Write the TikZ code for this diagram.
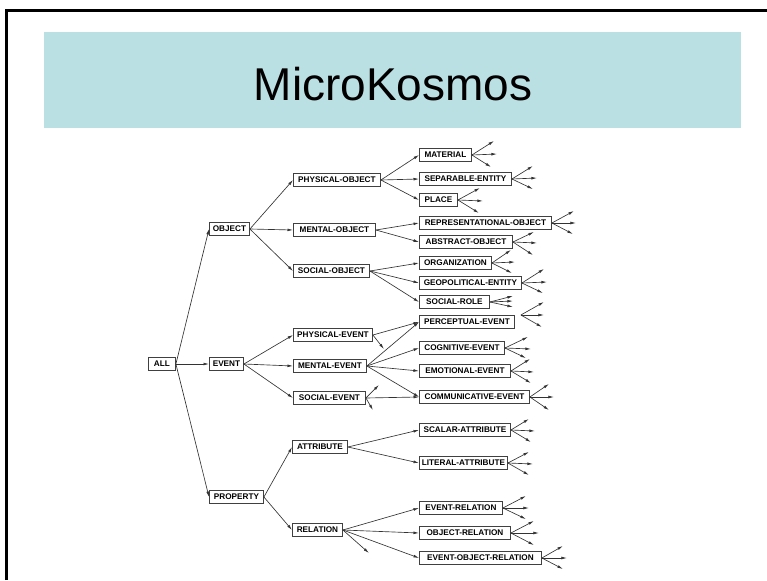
\documentclass[tikz,border=0pt]{standalone}
\usepackage{fontspec}
\setmainfont{Liberation Sans}
\usetikzlibrary{arrows.meta}
\definecolor{banner}{RGB}{187,224,227}

% three short open-ended arrows fanning out from a point
% #1 start point, #2 name prefix, then (dx,dy) for the upper, middle and lower arrow
\newcommand\fanout[8]{%
  \path (#1) ++(#3,#4) coordinate (#2-up)
        (#1) ++(#5,#6) coordinate (#2-mid)
        (#1) ++(#7,#8) coordinate (#2-dn);
  \draw[stub] (#1) -- (#2-up);
  \draw[stub] (#1) -- (#2-mid);
  \draw[stub] (#1) -- (#2-dn);}

\begin{document}
\begin{tikzpicture}[x=1pt,y=-1pt,
  box/.style={draw=black!75, line width=0.9pt, fill=white, anchor=west,
    font=\bfseries\fontsize{8.2}{9}\selectfont, minimum height=13.5pt,
    inner xsep=1pt, inner ysep=0pt, text height=5.9pt, text depth=0pt},
  link/.style={draw=black!80, line width=0.65pt, -{Latex[length=5.5pt,width=2.8pt]}},
  stub/.style={link}]
\useasboundingbox (0,0) rectangle (767,580);

% page frame and title banner
\draw[line width=3pt] (6.5,580) |- (767,10.5);
\fill[banner] (44,32) rectangle (741,128);
\node[font=\fontsize{46}{50}\selectfont] (title) at (393,84) {MicroKosmos};

% level 0 and 1
\node[box, minimum width=27] (all) at (148,364) {ALL};
\node[box, minimum width=40] (object) at (209,229) {OBJECT};
\node[box, minimum width=34] (event) at (209,364) {EVENT};
\node[box, minimum width=54] (property) at (209,497) {PROPERTY};

% level 2
\node[box, minimum width=87] (phobj) at (293,180) {PHYSICAL-OBJECT};
\node[box, minimum width=82] (meobj) at (293,230) {MENTAL-OBJECT};
\node[box, minimum width=76] (soobj) at (293,271) {SOCIAL-OBJECT};
\node[box, minimum width=79] (phev) at (293,335) {PHYSICAL-EVENT};
\node[box, minimum width=73] (meev) at (293,366) {MENTAL-EVENT};
\node[box, minimum width=72] (soev) at (293,398) {SOCIAL-EVENT};
\node[box, minimum width=55] (attr) at (292,447) {ATTRIBUTE};
\node[box, minimum width=50] (rel) at (292,530) {RELATION};

% level 3
\node[box, minimum width=52] (material) at (419,155) {MATERIAL};
\node[box, minimum width=92] (sepent) at (419,179) {SEPARABLE-ENTITY};
\node[box, minimum width=38] (place) at (419,200) {PLACE};
\node[box, minimum width=132] (repobj) at (419,223) {REPRESENTATIONAL-OBJECT};
\node[box, minimum width=93] (absobj) at (419,242) {ABSTRACT-OBJECT};
\node[box, minimum width=72] (org) at (419,263) {ORGANIZATION};
\node[box, minimum width=102] (geoent) at (419,283) {GEOPOLITICAL-ENTITY};
\node[box, minimum width=70] (socrole) at (419,302) {SOCIAL-ROLE};
\node[box, minimum width=95] (percev) at (419,322) {PERCEPTUAL-EVENT};
\node[box, minimum width=85] (cogev) at (419,348) {COGNITIVE-EVENT};
\node[box, minimum width=91] (emoev) at (419,371) {EMOTIONAL-EVENT};
\node[box, minimum width=110] (commev) at (419,397) {COMMUNICATIVE-EVENT};
\node[box, minimum width=91] (scalattr) at (419,430) {SCALAR-ATTRIBUTE};
\node[box, minimum width=88] (litattr) at (419,463) {LITERAL-ATTRIBUTE};
\node[box, minimum width=83] (evrel) at (419,508) {EVENT-RELATION};
\node[box, minimum width=91] (objrel) at (419,533) {OBJECT-RELATION};
\node[box, minimum width=122] (evobjrel) at (419,558) {EVENT-OBJECT-RELATION};

% tree links
\foreach \p/\c in {all/object, all/event, all/property,
    object/phobj, object/meobj, object/soobj,
    event/phev, event/meev, event/soev,
    property/attr, property/rel,
    phobj/material, phobj/sepent, phobj/place,
    meobj/repobj, meobj/absobj,
    soobj/org, soobj/geoent, soobj/socrole,
    phev/percev, meev/percev, meev/cogev, meev/emoev, meev/commev, soev/commev,
    attr/scalattr, attr/litattr,
    rel/evrel, rel/objrel, rel/evobjrel}
  \draw[link] (\p.east) -- (\c.west);

% open-ended arrows
\path (phev.east) ++(11,14) coordinate (phev-dn);
\draw[stub] (phev.east) -- (phev-dn);
\path (soev.east) ++(13,-13) coordinate (soev-up) (soev.east) ++(7,12) coordinate (soev-dn);
\draw[stub] (soev.east) -- (soev-up);
\draw[stub] (soev.east) -- (soev-dn);
\path (rel.east) ++(26,23) coordinate (rel-dn);
\draw[stub] (rel.east) -- (rel-dn);

\fanout{material.east}{material}{22}{-14}{25}{-1}{19}{12}
\fanout{sepent.east}{sepent}{21}{-13}{25}{-1}{21}{10}
\fanout{place.east}{place}{22}{-12}{25}{1}{21}{13}
\fanout{repobj.east}{repobj}{22}{-12}{24}{0}{21}{11}
\fanout{absobj.east}{absobj}{21}{-10}{24}{1}{20}{13}
\fanout{org.east}{org}{19}{-13}{23}{-1}{20}{10}
\fanout{geoent.east}{geoent}{22}{-14}{25}{-1}{21}{10}
\fanout{socrole.east}{socrole}{23}{-6}{23}{-1}{23}{5}
\path (percev.east) ++(6,-7) coordinate (percev-hub);
\fanout{percev-hub}{percev}{23}{-13}{23}{0}{21}{12}
\fanout{cogev.east}{cogev}{23}{-11}{26}{1}{21}{10}
\fanout{emoev.east}{emoev}{19}{-12}{23}{1}{20}{12}
\fanout{commev.east}{commev}{19}{-13}{24}{0}{19}{13}
\fanout{scalattr.east}{scalattr}{18}{-11}{24}{1}{20}{12}
\fanout{litattr.east}{litattr}{21}{-11}{25}{1}{21}{12}
\fanout{evrel.east}{evrel}{23}{-12}{26}{0}{23}{11}
\fanout{objrel.east}{objrel}{23}{-12}{28}{0}{23}{12}
\fanout{evobjrel.east}{evobjrel}{21}{-12}{25}{0}{21}{11}
\end{tikzpicture}
\end{document}
